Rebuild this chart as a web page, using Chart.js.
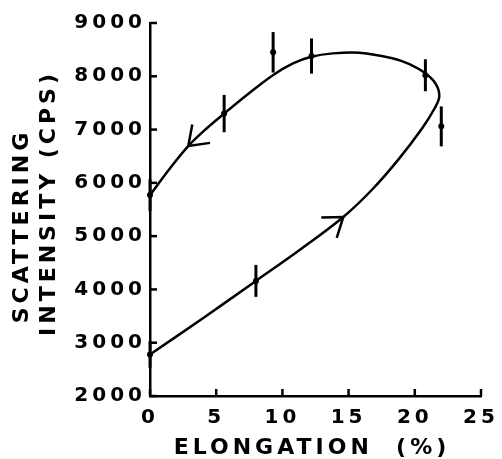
<!DOCTYPE html>
<html>
<head>
<meta charset="utf-8">
<script src="https://cdn.jsdelivr.net/npm/chart.js"></script>
<style>html,body{margin:0;padding:0;background:#fff}</style>
</head>
<body>
<canvas id="chart" width="502" height="459"></canvas>
<script>
const xTicks = [0, 5, 10, 15, 20, 25];
const yTicks = [2000, 3000, 4000, 5000, 6000, 7000, 8000, 9000];

// measured points + error bars
const ptX = [0, 5.6, 9.3, 12.2, 20.8, 22.0, 0, 8];
const ptY = [5770, 7300, 8450, 8380, 8020, 7060, 2780, 4160];
const ptErr = [300, 350, 380, 330, 300, 375, 250, 300];

// hand drawn loop, in drawing order (up along the bottom, back along the top)
const curveX = [0, 4, 8, 11.3, 14.6, 16.8, 18.83, 20.57, 21.5, 21.85, 21.6, 20.8, 19.6, 18.3, 15.8, 13.8, 12.18, 10.8, 9.28, 7.53, 5.65, 4.27, 2.89, 1.5, 0];
const curveY = [2780, 3460, 4160, 4740, 5360, 5880, 6460, 7030, 7400, 7620, 7850, 8055, 8230, 8340, 8443, 8430, 8366, 8240, 8020, 7690, 7310, 7020, 6690, 6270, 5770];

// arrow heads: tip, and a point further back on the curve
const arrowTipX = [14.6, 2.89];
const arrowTipY = [5360, 6690];
const arrowBackX = [11.3, 4.27];
const arrowBackY = [4740, 7020];

const fontTick = {family: 'DejaVu Sans', size: 20, weight: 'bold'};

const curve = curveX.map((x, i) => ({x: x, y: curveY[i]}));
const pts = ptX.map((x, i) => ({x: x, y: ptY[i]}));

const deco = {
  id: 'deco',
  beforeDraw(chart) {
    chart.ctx.letterSpacing = '4px';
  },
  afterDatasetsDraw(chart) {
    const c = chart.ctx, xs = chart.scales.x, ys = chart.scales.y, a = chart.chartArea;
    c.save();
    c.strokeStyle = '#000';
    c.lineCap = 'butt';
    // error bars
    c.lineWidth = 3;
    for (let i = 0; i < ptX.length; i++) {
      const px = xs.getPixelForValue(ptX[i]);
      c.beginPath();
      c.moveTo(px, ys.getPixelForValue(ptY[i] + ptErr[i]));
      c.lineTo(px, ys.getPixelForValue(ptY[i] - ptErr[i]));
      c.stroke();
    }
    // arrows
    c.lineWidth = 2.5;
    for (let i = 0; i < arrowTipX.length; i++) {
      const tx = xs.getPixelForValue(arrowTipX[i]), ty = ys.getPixelForValue(arrowTipY[i]);
      const bx = xs.getPixelForValue(arrowBackX[i]), by = ys.getPixelForValue(arrowBackY[i]);
      const ang = Math.atan2(by - ty, bx - tx);
      const len = 22, spread = 0.62;
      c.beginPath();
      c.moveTo(tx + len * Math.cos(ang - spread), ty + len * Math.sin(ang - spread));
      c.lineTo(tx, ty);
      c.lineTo(tx + len * Math.cos(ang + spread), ty + len * Math.sin(ang + spread));
      c.stroke();
    }
    // inward tick marks
    xTicks.forEach(v => {
      const px = xs.getPixelForValue(v);
      c.beginPath(); c.moveTo(px, a.bottom); c.lineTo(px, a.bottom - 7); c.stroke();
    });
    yTicks.forEach(v => {
      const py = ys.getPixelForValue(v);
      c.beginPath(); c.moveTo(a.left, py); c.lineTo(a.left + 7, py); c.stroke();
    });
    c.restore();
  },
  afterDraw(chart) {
    const c = chart.ctx;
    c.save();
    c.fillStyle = '#000';
    c.font = 'bold 22px "DejaVu Sans"';
    c.textAlign = 'center';
    c.textBaseline = 'middle';
    c.letterSpacing = '4px';
    c.fillText('ELONGATION  (%)', 312, 448);
    c.translate(22, 226);
    c.rotate(-Math.PI / 2);
    c.fillText('SCATTERING', 0, 0);
    c.restore();
    c.save();
    c.fillStyle = '#000';
    c.font = 'bold 22px "DejaVu Sans"';
    c.textAlign = 'center';
    c.textBaseline = 'middle';
    c.letterSpacing = '4px';
    c.translate(49, 203);
    c.rotate(-Math.PI / 2);
    c.fillText('INTENSITY (CPS)', 0, 0);
    c.restore();
    chart.ctx.letterSpacing = '0px';
  }
};

new Chart(document.getElementById('chart'), {
  type: 'scatter',
  data: {
    datasets: [
      {data: curve, showLine: true, tension: 0.35, borderColor: '#000', borderWidth: 2.5, pointRadius: 0, clip: 6},
      {data: pts, showLine: false, pointRadius: 3, pointBackgroundColor: '#000', pointBorderWidth: 0, clip: 10}
    ]
  },
  options: {
    responsive: false,
    animation: false,
    layout: {padding: {left: 0, top: 23, right: 21, bottom: 0}},
    plugins: {legend: {display: false}, tooltip: {enabled: false}},
    scales: {
      x: {
        type: 'linear', min: 0, max: 25,
        afterBuildTicks: s => { s.ticks = xTicks.map(v => ({value: v})); },
        afterFit: s => { s.height = 63; s.paddingLeft = 0; s.paddingRight = 0; },
        grid: {display: false, drawTicks: false},
        border: {color: '#000', width: 2.5},
        ticks: {color: '#000', font: fontTick, padding: 10, maxRotation: 0, callback: v => String(v)}
      },
      y: {
        type: 'linear', min: 2000, max: 9000,
        afterBuildTicks: s => { s.ticks = yTicks.map(v => ({value: v})); },
        afterFit: s => { s.width = 150; s.paddingTop = 0; s.paddingBottom = 0; },
        grid: {display: false, drawTicks: false},
        border: {color: '#000', width: 2.5},
        ticks: {color: '#000', font: fontTick, padding: 4, callback: v => String(v)}
      }
    }
  },
  plugins: [deco]
});
</script>
</body>
</html>
